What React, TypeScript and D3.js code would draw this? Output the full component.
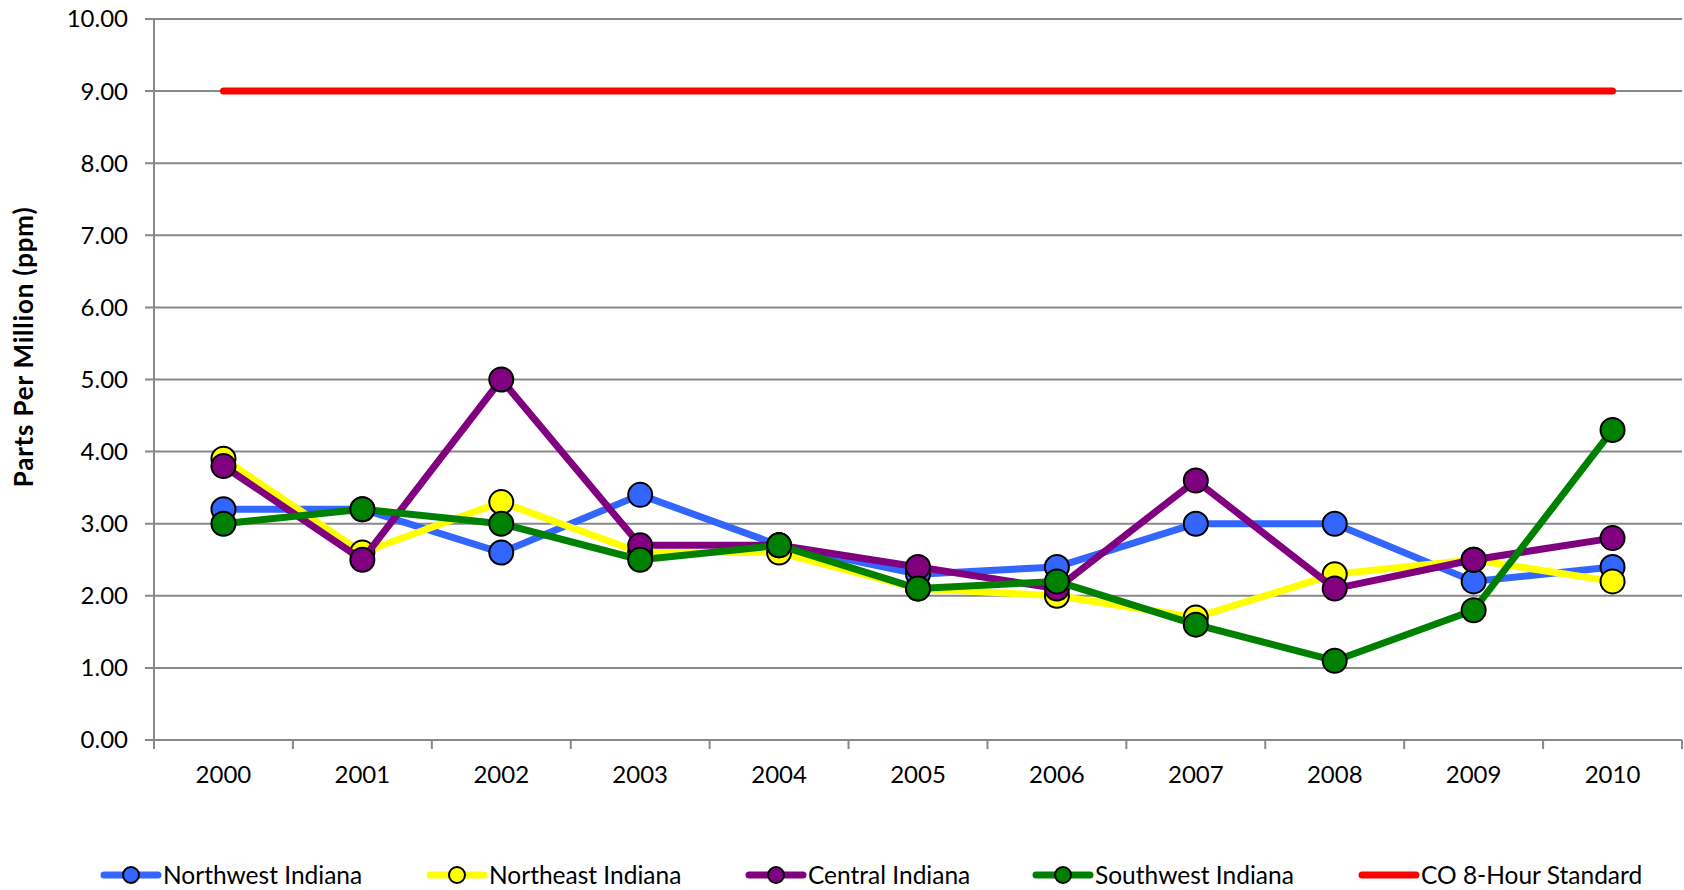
import React from "react";
import * as d3 from "d3";

const years = ["2000","2001","2002","2003","2004","2005","2006","2007","2008","2009","2010"];
const northwest = [3.2, 3.2, 2.6, 3.4, 2.7, 2.3, 2.4, 3.0, 3.0, 2.2, 2.4];
const northeast = [3.9, 2.6, 3.3, 2.6, 2.6, 2.1, 2.0, 1.7, 2.3, 2.5, 2.2];
const central = [3.8, 2.5, 5.0, 2.7, 2.7, 2.4, 2.1, 3.6, 2.1, 2.5, 2.8];
const southwest = [3.0, 3.2, 3.0, 2.5, 2.7, 2.1, 2.2, 1.6, 1.1, 1.8, 4.3];
const coStandard = [9, 9, 9, 9, 9, 9, 9, 9, 9, 9, 9];
const yTicks = [0, 1, 2, 3, 4, 5, 6, 7, 8, 9, 10];

const series = [
  { name: "Northwest Indiana", values: northwest, color: "#3366FF", marker: true },
  { name: "Northeast Indiana", values: northeast, color: "#FFFF00", marker: true },
  { name: "Central Indiana", values: central, color: "#800080", marker: true },
  { name: "Southwest Indiana", values: southwest, color: "#008000", marker: true },
  { name: "CO 8-Hour Standard", values: coStandard, color: "#FF0000", marker: false },
];

const legendX = [104, 430, 749, 1036, 1362];

export default function App() {
  const W = 1684, H = 890;
  const left = 154, right = 1682, top = 19, bottom = 740;
  const x = d3.scaleBand<string>().domain(years).range([left, right]).padding(0);
  const y = d3.scaleLinear().domain([0, 10]).range([bottom, top]);
  const cx = (yr: string) => (x(yr) as number) + x.bandwidth() / 2;
  const line = d3.line<number>().x((_, i) => cx(years[i])).y((v) => y(v));
  const font = "Lato, 'Liberation Sans', sans-serif";
  const grid = "#888888";
  const boundaries = years.map((yr) => x(yr) as number).concat([right]);

  return (
    <svg width={W} height={H} style={{ position: "absolute", left: 0, top: 0, background: "#fff" }} fontFamily={font}>
      {yTicks.map((t) => (
        <g key={t}>
          <line x1={left - 9} x2={right} y1={y(t)} y2={y(t)} stroke={grid} strokeWidth={2} />
          <text x={128} y={y(t)} dy="0.35em" textAnchor="end" fontSize={24} fill="#000">
            {t.toFixed(2)}
          </text>
        </g>
      ))}
      <line x1={left} x2={left} y1={top} y2={bottom} stroke={grid} strokeWidth={2} />
      {boundaries.map((b, i) => (
        <line key={i} x1={b} x2={b} y1={bottom} y2={bottom + 9} stroke={grid} strokeWidth={2} />
      ))}
      {years.map((yr) => (
        <text key={yr} x={cx(yr)} y={783} textAnchor="middle" fontSize={24} fill="#000">
          {yr}
        </text>
      ))}
      <text
        transform={`translate(33,347) rotate(-90)`}
        textAnchor="middle"
        fontSize={26}
        fontWeight="bold"
        letterSpacing={0.8}
        fill="#000"
      >
        Parts Per Million (ppm)
      </text>
      {series.map((s) => (
        <g key={s.name}>
          <path d={line(s.values) as string} fill="none" stroke={s.color} strokeWidth={7} strokeLinecap="round" strokeLinejoin="round" />
          {s.marker &&
            s.values.map((v, i) => (
              <circle key={i} cx={cx(years[i])} cy={y(v)} r={12} fill={s.color} stroke="#000" strokeWidth={2} />
            ))}
        </g>
      ))}
      {series.map((s, i) => (
        <g key={s.name} transform={`translate(${legendX[i]},875)`}>
          <line x1={0} x2={54} y1={0} y2={0} stroke={s.color} strokeWidth={7} strokeLinecap="round" />
          {s.marker && <circle cx={27} cy={0} r={8} fill={s.color} stroke="#000" strokeWidth={2} />}
          <text x={59} y={0} dy="0.35em" fontSize={24.5} fill="#000">
            {s.name}
          </text>
        </g>
      ))}
    </svg>
  );
}
